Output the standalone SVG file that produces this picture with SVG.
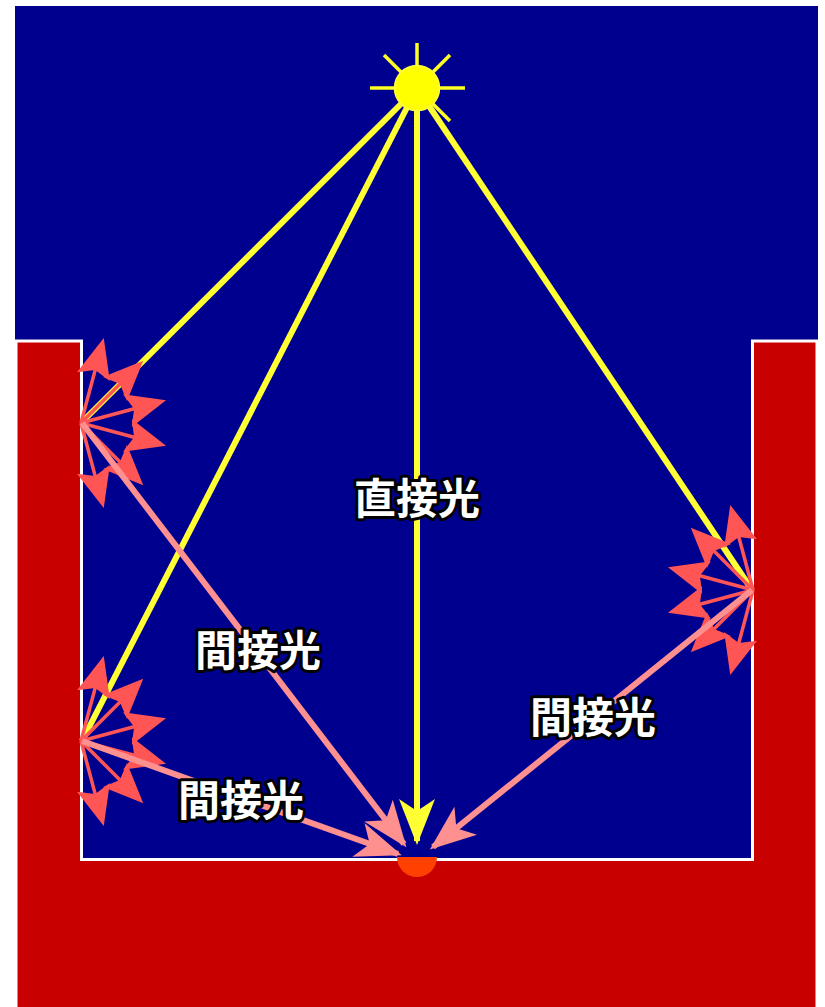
<svg xmlns="http://www.w3.org/2000/svg" xmlns:xlink="http://www.w3.org/1999/xlink" width="825" height="1007" viewBox="0 0 825 1007">
  <style>
    .sky { fill: #00008f; }
    .ground { fill: #c80000; stroke: #ffffff; stroke-width: 3; }
    .direct { stroke: #ffff33; stroke-width: 6; fill: none; }
    .indirect { stroke: #ff9090; stroke-width: 6; fill: none; }
    .scatter { stroke: #ff5555; stroke-width: 3.5; fill: none; }
    .ray { stroke: #ffff22; stroke-width: 3.5; stroke-linecap: butt; }
    .label { font-family: "Noto Sans CJK JP", "Noto Sans CJK SC", sans-serif; font-size: 42px; font-weight: bold; fill: #ffffff; stroke: #000000; stroke-width: 6; stroke-linejoin: round; paint-order: stroke; text-anchor: middle; }
  </style>
  <defs>
    <marker id="headYellow" markerUnits="userSpaceOnUse" markerWidth="48" markerHeight="40" viewBox="0 -20 48 40" refX="42" refY="0" orient="auto">
      <path d="M46,0 L0,-18 L12,0 L0,18 Z" fill="#ffff33"/>
    </marker>
    <marker id="headPink" markerUnits="userSpaceOnUse" markerWidth="48" markerHeight="40" viewBox="0 -20 48 40" refX="42" refY="0" orient="auto">
      <path d="M46,0 L0,-18 L12,0 L0,18 Z" fill="#ff9090"/>
    </marker>
    <marker id="headScatter" markerUnits="userSpaceOnUse" markerWidth="42" markerHeight="40" viewBox="0 -20 42 40" refX="34" refY="0" orient="auto">
      <path d="M40,0 L0,-17 L7,0 L0,17 Z" fill="#ff5555"/>
    </marker>
    <!-- six diffuse reflections fanning out from a wall point, facing +x -->
    <g id="fan">
      <line class="scatter" x1="0" y1="0" x2="21.2" y2="-79.2" marker-end="url(#headScatter)"/>
      <line class="scatter" x1="0" y1="0" x2="58" y2="-58" marker-end="url(#headScatter)"/>
      <line class="scatter" x1="0" y1="0" x2="79.2" y2="-21.2" marker-end="url(#headScatter)"/>
      <line class="scatter" x1="0" y1="0" x2="79.2" y2="21.2" marker-end="url(#headScatter)"/>
      <line class="scatter" x1="0" y1="0" x2="58" y2="58" marker-end="url(#headScatter)"/>
      <line class="scatter" x1="0" y1="0" x2="21.2" y2="79.2" marker-end="url(#headScatter)"/>
    </g>
  </defs>

  <!-- sky and the U-shaped pit -->
  <rect id="sky" class="sky" x="15" y="6" width="803" height="1001"/>
  <path id="pit" class="ground" d="M16,341 H81.5 V859.5 H752.5 V341 H817 V1010 H16 Z"/>
  <path id="spot" d="M397,857 A20,20 0 0 0 437,857 Z" fill="#ff4000"/>

  <g id="connectors">
    <!-- direct sunlight -->
    <line class="direct" x1="417" y1="88" x2="82" y2="422"/>
    <line class="direct" x1="417" y1="88" x2="82" y2="741"/>
    <line class="direct" x1="417" y1="88" x2="752" y2="590"/>
    <line class="direct" x1="417" y1="88" x2="417" y2="841" marker-end="url(#headYellow)"/>
  </g>

  <g id="reflect-left-upper">
    <use xlink:href="#fan" transform="translate(81,423)"/>
  </g>
  <g id="reflect-left-lower">
    <use xlink:href="#fan" transform="translate(81,741)"/>
  </g>
  <g id="reflect-right">
    <use xlink:href="#fan" transform="translate(753,590) scale(-1,1)"/>
  </g>

  <g id="indirect-connectors">
    <line class="indirect" x1="82" y1="423" x2="404" y2="844" marker-end="url(#headPink)"/>
    <line class="indirect" x1="82" y1="741" x2="398" y2="854" marker-end="url(#headPink)"/>
    <line class="indirect" x1="752" y1="590" x2="433" y2="847" marker-end="url(#headPink)"/>
  </g>

  <g id="sun">
    <line class="ray" x1="417" y1="66" x2="417" y2="43"/>
    <line class="ray" x1="395" y1="88" x2="370" y2="88"/>
    <line class="ray" x1="439" y1="88" x2="465" y2="88"/>
    <line class="ray" x1="401" y1="72" x2="384" y2="55"/>
    <line class="ray" x1="433" y1="72" x2="450" y2="55"/>
    <line class="ray" x1="433" y1="104" x2="450" y2="121"/>
    <circle cx="417" cy="88" r="22.5" fill="#ffff00" stroke="#ffff44" stroke-width="1.5"/>
  </g>

  <g id="label-direct"><text class="label" x="417" y="514">直接光</text></g>
  <g id="label-indirect-1"><text class="label" x="258" y="666">間接光</text></g>
  <g id="label-indirect-2"><text class="label" x="241" y="816">間接光</text></g>
  <g id="label-indirect-3"><text class="label" x="593" y="733">間接光</text></g>
</svg>
